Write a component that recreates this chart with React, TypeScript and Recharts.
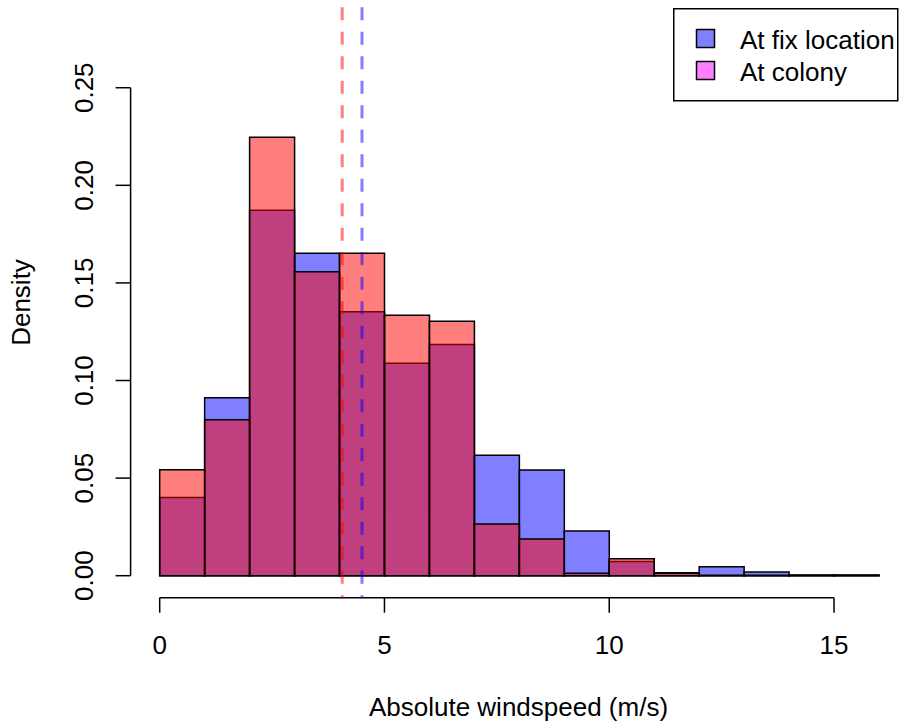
import React from 'react';
import { BarChart, Bar, XAxis, YAxis, ReferenceLine, Legend, Label } from 'recharts';

// histogram bins of absolute windspeed, 1 m/s wide
const BIN_MIDS = [0.5, 1.5, 2.5, 3.5, 4.5, 5.5, 6.5, 7.5, 8.5, 9.5, 10.5, 11.5, 12.5, 13.5, 14.5, 15.5];
const FIX_DENSITY = [0.0400, 0.0912, 0.1872, 0.1652, 0.1352, 0.1088, 0.1185, 0.0617, 0.0541, 0.0229, 0.0073, 0.0015, 0.0046, 0.0019, 0.0003, 0.0003];
const COLONY_DENSITY = [0.0543, 0.0799, 0.2246, 0.1557, 0.1652, 0.1334, 0.1303, 0.0265, 0.0188, 0.0012, 0.0087, 0.0012, 0.0002, 0.0002, 0.0002, 0.0002];

const FIX_MEAN = 4.5;
const COLONY_MEAN = 4.06;

const X_TICKS = [0, 5, 10, 15];
const Y_TICKS = [0, 0.05, 0.1, 0.15, 0.2, 0.25];
const X_DOMAIN: [number, number] = [-0.647, 16.49];
const Y_DOMAIN: [number, number] = [-0.01127, 0.2912];

const LEGEND_LABELS = ['At fix location', 'At colony'];
const LEGEND_COLORS = ['#8080FF', '#FF80FF'];

const data = BIN_MIDS.map((x, i) => ({ x, fix: FIX_DENSITY[i], colony: COLONY_DENSITY[i] }));

const FONT = '"Liberation Sans", Arial, Helvetica, sans-serif';
const FS = 26;

const XTick = ({ x, y, payload }: any) => (
    <text x={x} y={y + 41.3} textAnchor="middle" fontSize={FS} fontFamily={FONT} fill="#000">
        {payload.value}
    </text>
);

const YTick = ({ x, y, payload }: any) => (
    <text x={x - 22.6} y={y} transform={`rotate(-90 ${x - 22.6} ${y})`} textAnchor="middle" fontSize={FS} fontFamily={FONT} fill="#000">
        {payload.value.toFixed(2)}
    </text>
);

const LegendBox = () => (
    <svg width={226} height={95} style={{ display: 'block' }}>
        <rect x={0.75} y={0.75} width={224} height={92} fill="#fff" stroke="#000" strokeWidth={1.5} />
        {LEGEND_LABELS.map((label, i) => (
            <g key={label}>
                <rect x={23.5} y={21.5 + i * 32} width={18} height={18} fill={LEGEND_COLORS[i]} stroke="#000" strokeWidth={1.5} />
                <text x={67} y={41 + i * 31.5} fontSize={FS} fontFamily={FONT} fill="#000">{label}</text>
            </g>
        ))}
    </svg>
);

export default function App() {
    return (
        <div style={{ position: 'absolute', left: 0, top: 0, width: 901, height: 727, background: '#fff' }}>
            <BarChart
                width={901}
                height={727}
                data={data}
                margin={{ top: 7.3, right: 0, bottom: 0, left: 70.6 }}
                barCategoryGap={0}
                barGap={0}
            >
                <XAxis
                    xAxisId="fix"
                    dataKey="x"
                    type="number"
                    domain={X_DOMAIN}
                    ticks={X_TICKS}
                    interval={0}
                    allowDataOverflow
                    height={129.3}
                    axisLine={false}
                    tickLine={{ stroke: '#000', strokeWidth: 1.5 }}
                    tickSize={15}
                    tickMargin={0}
                    tick={<XTick />}
                >
                    <Label
                        content={() => (
                            <text x={518.5} y={716} textAnchor="middle" fontSize={FS} fontFamily={FONT} fill="#000">
                                Absolute windspeed (m/s)
                            </text>
                        )}
                    />
                </XAxis>
                <XAxis xAxisId="colony" dataKey="x" type="number" domain={X_DOMAIN} allowDataOverflow hide height={0} />
                <YAxis
                    type="number"
                    domain={Y_DOMAIN}
                    ticks={Y_TICKS}
                    interval={0}
                    allowDataOverflow
                    width={60}
                    axisLine={false}
                    tickLine={{ stroke: '#000', strokeWidth: 1.5 }}
                    tickSize={15}
                    tickMargin={0}
                    tick={<YTick />}
                >
                    <Label
                        content={() => (
                            <text x={30} y={302.5} transform="rotate(-90 30 302.5)" textAnchor="middle" fontSize={FS} fontFamily={FONT} fill="#000">
                                Density
                            </text>
                        )}
                    />
                </YAxis>
                <Bar xAxisId="fix" dataKey="fix" fill="rgba(0,0,255,0.5)" stroke="#000" strokeWidth={1.5} isAnimationActive={false} />
                <Bar xAxisId="colony" dataKey="colony" fill="rgba(255,0,0,0.5)" stroke="#000" strokeWidth={1.5} isAnimationActive={false} />
                {/* axis lines span only the tick range, as in base R */}
                <ReferenceLine
                    xAxisId="fix"
                    segment={[{ x: X_TICKS[0], y: Y_DOMAIN[0] }, { x: X_TICKS[X_TICKS.length - 1], y: Y_DOMAIN[0] }]}
                    stroke="#000"
                    strokeWidth={1.5}
                    ifOverflow="visible"
                />
                <ReferenceLine
                    xAxisId="fix"
                    segment={[{ x: X_DOMAIN[0], y: Y_TICKS[0] }, { x: X_DOMAIN[0], y: Y_TICKS[Y_TICKS.length - 1] }]}
                    stroke="#000"
                    strokeWidth={1.5}
                    ifOverflow="visible"
                />
                <ReferenceLine
                    xAxisId="fix"
                    segment={[{ x: COLONY_MEAN, y: Y_DOMAIN[1] }, { x: COLONY_MEAN, y: Y_DOMAIN[0] }]}
                    stroke="rgba(255,0,0,0.5)"
                    strokeWidth={3}
                    strokeDasharray="13 11.5"
                    ifOverflow="visible"
                />
                <ReferenceLine
                    xAxisId="fix"
                    segment={[{ x: FIX_MEAN, y: Y_DOMAIN[1] }, { x: FIX_MEAN, y: Y_DOMAIN[0] }]}
                    stroke="rgba(0,0,255,0.5)"
                    strokeWidth={3}
                    strokeDasharray="13 11.5"
                    ifOverflow="visible"
                />
                <Legend
                    layout="vertical"
                    align="center"
                    verticalAlign="middle"
                    content={<LegendBox />}
                    wrapperStyle={{ position: 'absolute', left: 672.5, top: 7.5, width: 226, height: 95 }}
                />
            </BarChart>
        </div>
    );
}
